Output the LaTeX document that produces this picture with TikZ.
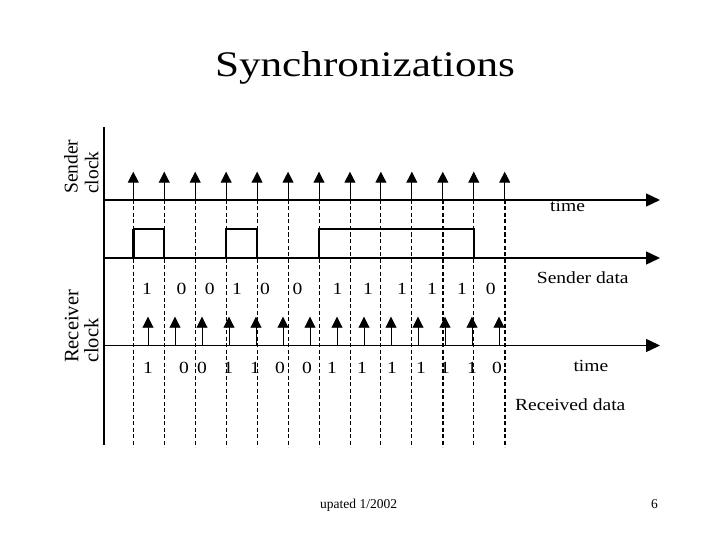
\documentclass[tikz,border=0pt]{standalone}
\usepackage{fontspec}
\setmainfont{Liberation Serif}
\usepackage{graphicx}
\usetikzlibrary{arrows.meta}
\newcommand{\hstr}[1]{\scalebox{1.15}[1]{#1}}
\begin{document}
\begin{tikzpicture}[x=1pt,y=-1pt,
  lbl/.style={font=\fontsize{17}{20}\selectfont, inner sep=0pt, anchor=base},
  lblw/.style={lbl, anchor=base west},
  side/.style={rotate=90, anchor=base west, inner sep=0pt},
  axisline/.style={line width=1.4pt, -{Triangle[length=14pt,width=13pt]}},
  clk/.style={line width=0.9pt, -{Triangle[length=11pt,width=11pt]}},
  gridline/.style={line width=0.9pt, dash pattern=on 4pt off 2.5pt},
  wave/.style={line width=1.6pt},
  edge/.style={line width=2.6pt}]
\useasboundingbox[fill=white] (0,0) rectangle (720,540);

% title
\node[font=\fontsize{36}{40}\selectfont, anchor=base, inner sep=0pt] (title) at (365,76.7) {\scalebox{1.2}[1]{Synchronizations}};

% side labels
\node[side, font=\fontsize{19.5}{20}\selectfont] (s1) at (77.7,194) {Sender};
\node[side, font=\fontsize{19.5}{20}\selectfont] (s2) at (98.3,194) {clock};
\node[side, font=\fontsize{20.5}{20}\selectfont] (r1) at (78.3,363) {Receiver};
\node[side, font=\fontsize{20.5}{20}\selectfont] (r2) at (98.3,363) {clock};

% coordinates for axes
\coordinate (vt) at (104,127);
\coordinate (vb) at (104,445);
\coordinate (a1s) at (104,200);
\coordinate (a1e) at (660,200);
\coordinate (a2s) at (104,258);
\coordinate (a2e) at (660,258);
\coordinate (a3s) at (104,345.5);
\coordinate (a3e) at (660,345.5);

% dashed sampling lines of the sender clock
\foreach \i in {0,...,12} {
  \pgfmathsetmacro\xx{133.3+30.95*\i}
  \ifnum\i=10 \def\lw{1.8pt}\else\ifnum\i=12 \def\lw{2pt}\else\def\lw{0.9pt}\fi\fi
  \coordinate (g\i t) at (\xx,200);
  \coordinate (g\i b) at (\xx,447);
  \coordinate (g\i a) at (\xx,171.7);
  \draw[gridline, line width=\lw] (g\i t) -- (g\i b);
  \draw[clk] (g\i t) -- (g\i a);
}

% axes
\draw[line width=1.6pt] (vt) -- (vb);
\draw[axisline] (a1s) -- (a1e);
\draw[axisline] (a2s) -- (a2e);
\draw[axisline] (a3s) -- (a3e);

% sender waveform
\foreach \a/\b in {133.3/164.25, 226.15/257.1, 319.0/473.75} {
  \draw[wave] (\a,258) -- (\a,229) -- (\b,229) -- (\b,258);
  \draw[edge] (\a,258) -- (\a,229);
  \draw[line width=2.1pt] (\b,258) -- (\b,229);
}

% receiver clock
\foreach \j in {0,...,13} {
  \pgfmathsetmacro\xx{148+27*\j}
  \coordinate (rc\j) at (\xx,345.5);
  \coordinate (rt\j) at (\xx,316.7);
  \draw[clk] (rc\j) -- (rt\j);
}

% sender data digits
\foreach \x/\d [count=\k] in {147/1, 181.5/0, 209.7/0, 237/1, 265/0, 297.5/0, 337.5/1, 368/1, 402/1, 432/1, 462/1, 490.7/0} {
  \node[lbl] (sd\k) at (\x,294) {\hstr{\d}};
}

% received data digits
\foreach \x/\d [count=\k] in {148/1, 184/0, 202/0, 228.3/1, 255/1, 280/0, 307/0, 332/1, 362/1, 392/1, 421/1, 445/1, 472/1, 497/0} {
  \node[lbl] (rd\k) at (\x,373) {\hstr{\d}};
}

% labels
\node[lblw] (time1) at (550,211.7) {\hstr{time}};
\node[lblw] (sdata) at (536.7,283.3) {\hstr{Sender data}};
\node[lblw] (time2) at (573.3,371.7) {\hstr{time}};
\node[lblw] (rdata) at (515,410.7) {\hstr{Received data}};

% footer
\node[font=\fontsize{13.5}{15}\selectfont, anchor=base west, inner sep=0pt] (foot) at (320,508) {upated 1/2002};
\node[font=\fontsize{13.5}{15}\selectfont, anchor=base, inner sep=0pt] (page) at (654.5,508) {6};
\end{tikzpicture}
\end{document}
